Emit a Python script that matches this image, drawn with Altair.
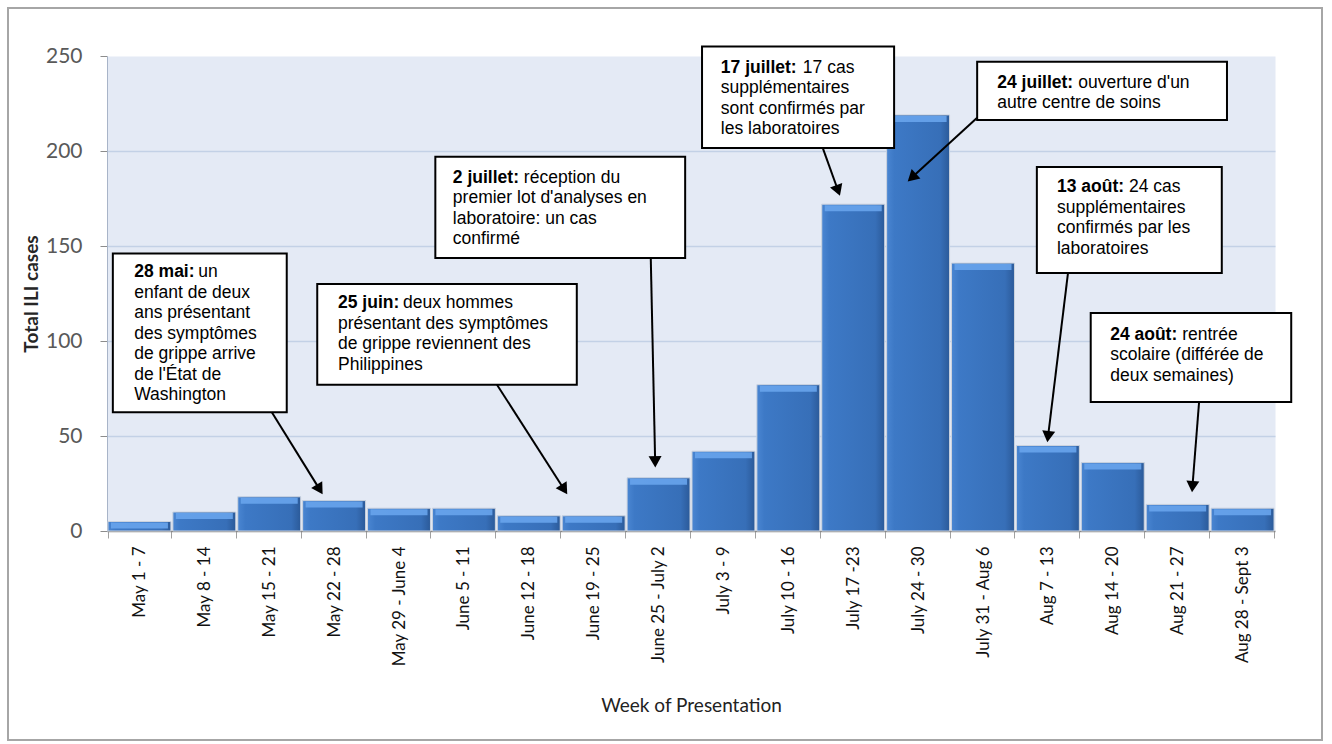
import math
import altair as alt
import pandas as pd

# ---------------- data ----------------
weeks = ["May 1 - 7", "May 8 - 14", "May 15 - 21", "May 22 - 28", "May 29 - June 4",
         "June 5 - 11", "June 12 - 18", "June 19 - 25", "June 25 - July 2", "July 3 - 9",
         "July 10 - 16", "July 17 -23", "July 24 - 30", "July 31 - Aug 6", "Aug 7 - 13",
         "Aug 14 - 20", "Aug 21 - 27", "Aug 28 - Sept 3"]
cases = [5, 10, 18, 16, 12, 12, 8, 8, 28, 42, 77, 172, 219, 141, 45, 36, 14, 12]

ann_bold = ["28 mai:", "25 juin:", "2 juillet:", "17 juillet:", "24 juillet:", "13 août:", "24 août:"]
ann_first = ["un", "deux hommes", "réception du", "17 cas", "ouverture d'un", "24 cas", "rentrée"]
ann_rest = [
    ["enfant de deux", "ans présentant", "des symptômes", "de grippe arrive", "de l'État de", "Washington"],
    ["présentant des symptômes", "de grippe reviennent des", "Philippines"],
    ["premier lot d'analyses en", "laboratoire: un cas", "confirmé"],
    ["supplémentaires", "sont confirmés par", "les laboratoires"],
    ["autre centre de soins"],
    ["supplémentaires", "confirmés par les", "laboratoires"],
    ["scolaire (différée de", "deux semaines)"],
]

# annotation layout, in chart units (x: week index 0..18, y: cases)
box_x1 = [0.09, 3.24, 5.06, 9.17, 13.41, 14.33, 15.16]
box_x2 = [2.77, 7.24, 8.91, 12.13, 17.26, 17.18, 18.25]
box_top = [146.0, 130.0, 197.0, 255.0, 247.0, 191.6, 114.7]
box_bot = [62.5, 77.0, 143.7, 201.6, 216.3, 135.8, 67.9]
text_x = [0.42, 3.56, 5.33, 9.46, 13.72, 14.64, 15.46]
text_y = [136.3, 120.0, 185.8, 243.7, 235.8, 181.0, 103.2]
bold_px = [64, 65, 71, 82, 81, 72, 72]
arrow_x1 = [2.54, 6.01, 8.38, 11.03, 13.41, 14.81, 16.83]
arrow_y1 = [62.5, 77.0, 143.7, 201.6, 217.5, 135.8, 67.9]
arrow_x2 = [3.33, 7.10, 8.45, 11.30, 12.33, 14.49, 16.72]
arrow_y2 = [19.0, 19.0, 33.0, 176.0, 183.7, 46.3, 20.0]

# ---------------- geometry ----------------
W, H = 1168, 475
YMAX = 250
NX = len(weeks)
PX_X = W / NX
PX_Y = H / YMAX
LINE_PX = 20.5
HEAD_PX = 13

bars_df = pd.DataFrame({"week": weeks, "cases": cases})

box_df = pd.DataFrame({"x1": box_x1, "x2": box_x2, "y1": box_top, "y2": box_bot})

text_rows = []
for i in range(len(ann_bold)):
    text_rows.append({"x": text_x[i], "y": text_y[i], "t": ann_bold[i], "w": "bold"})
    text_rows.append({"x": text_x[i] + bold_px[i] / PX_X, "y": text_y[i], "t": ann_first[i], "w": "normal"})
    for j, line in enumerate(ann_rest[i], start=1):
        text_rows.append({"x": text_x[i], "y": text_y[i] - j * LINE_PX / PX_Y, "t": line, "w": "normal"})
text_df = pd.DataFrame(text_rows)

arrow_rows = []
for i in range(len(arrow_x1)):
    dxp = (arrow_x2[i] - arrow_x1[i]) * PX_X
    dyp = -(arrow_y2[i] - arrow_y1[i]) * PX_Y
    L = math.hypot(dxp, dyp)
    ux, uy = dxp / L, dyp / L
    ang = math.degrees(math.atan2(ux, -uy)) % 360
    hx = arrow_x2[i] - ux * HEAD_PX * 0.5 / PX_X
    hy = arrow_y2[i] + uy * HEAD_PX * 0.5 / PX_Y
    arrow_rows.append({"x1": arrow_x1[i], "y1": arrow_y1[i], "hx": hx, "hy": hy, "ang": ang})
arrow_df = pd.DataFrame(arrow_rows)

# ---------------- scales ----------------
band = alt.Scale(domain=weeks, paddingInner=0.03, paddingOuter=0.015)
yscale = alt.Scale(domain=[0, YMAX], nice=False)
xq = alt.Scale(domain=[0, NX], nice=False, zero=False)

x_axis = alt.Axis(
    labelAngle=270, labelFont="Lato", labelFontSize=17, labelColor="#111111",
    labelPadding=8, tickBand="extent", tickColor="#a0a0a0", tickSize=7,
    domainColor="#8a8a8a", domainWidth=1.5, grid=False,
    title="Week of Presentation", titleFont="Lato", titleFontSize=19,
    titleFontWeight="normal", titleColor="#222222", titleY=174, titleBaseline="middle",
)
y_axis = alt.Axis(
    values=[0, 50, 100, 150, 200, 250], labelFont="Lato", labelFontSize=21,
    labelColor="#595959", labelPadding=18, tickColor="#8c8c8c", tickSize=7,
    domainColor="#a8b4c8", gridColor="#c3d1e6", gridWidth=1.5,
    gridOpacity=alt.condition("datum.value == 250 || datum.value == 0", alt.value(0), alt.value(1)),
    title="Total ILI cases", titleFont="Lato", titleFontSize=19, titleFontWeight="bold",
    titleColor="#262626", titleAngle=270, titleX=-76, titleY=H / 2,
    titleAlign="center", titleBaseline="middle",
)

bar_fill = alt.Gradient(
    gradient="linear",
    stops=[
        alt.GradientStop(color="#4a86d2", offset=0),
        alt.GradientStop(color="#3d79c6", offset=0.12),
        alt.GradientStop(color="#376fb8", offset=0.85),
        alt.GradientStop(color="#2b5a99", offset=1),
    ],
    x1=0, x2=1, y1=0, y2=0,
)

bars = alt.Chart(bars_df).mark_bar(
    color=bar_fill, stroke="#ccd3de", strokeWidth=1
).encode(
    x=alt.X("week:N", sort=weeks, scale=band, axis=x_axis),
    y=alt.Y("cases:Q", scale=yscale, axis=y_axis),
)

bevel = alt.Chart(bars_df).mark_tick(
    color="#68a4ec", thickness=6, size=57, yOffset=4, opacity=0.9
).encode(
    x=alt.X("week:N", sort=weeks, scale=band, axis=None),
    y=alt.Y("cases:Q", scale=yscale, axis=None),
)

boxes = alt.Chart(box_df).mark_rect(
    fill="white", stroke="black", strokeWidth=2
).encode(
    x=alt.X("x1:Q", scale=xq, axis=None), x2="x2:Q",
    y=alt.Y("y1:Q", scale=yscale, axis=None), y2="y2:Q",
)

txt_bold = alt.Chart(text_df).transform_filter("datum.w == 'bold'").mark_text(
    align="left", baseline="middle", font="Liberation Sans", fontSize=17.5,
    fontWeight="bold", color="black"
).encode(
    x=alt.X("x:Q", scale=xq, axis=None),
    y=alt.Y("y:Q", scale=yscale, axis=None),
    text="t:N",
)

txt_norm = alt.Chart(text_df).transform_filter("datum.w == 'normal'").mark_text(
    align="left", baseline="middle", font="Liberation Sans", fontSize=17.5,
    color="black"
).encode(
    x=alt.X("x:Q", scale=xq, axis=None),
    y=alt.Y("y:Q", scale=yscale, axis=None),
    text="t:N",
)

rules = alt.Chart(arrow_df).mark_rule(color="black", strokeWidth=2).encode(
    x=alt.X("x1:Q", scale=xq, axis=None), x2="hx:Q",
    y=alt.Y("y1:Q", scale=yscale, axis=None), y2="hy:Q",
)

heads = alt.Chart(arrow_df).mark_point(
    shape="triangle-up", filled=True, color="black", size=169, opacity=1
).encode(
    x=alt.X("hx:Q", scale=xq, axis=None),
    y=alt.Y("hy:Q", scale=yscale, axis=None),
    angle=alt.Angle("ang:Q", scale=None),
)

frame = alt.Chart(pd.DataFrame({"k": [0]})).mark_rect(
    fill="transparent", stroke="#a6a6a6", strokeWidth=2
).encode(
    x=alt.value(-99), x2=alt.value(1215), y=alt.value(-48), y2=alt.value(684),
)

chart = alt.layer(
    bars, bevel, boxes, rules, heads, txt_bold, txt_norm, frame
).resolve_scale(
    x="independent", y="independent"
).properties(
    width=W, height=H,
    padding={"left": 107, "top": 56, "right": 57, "bottom": 213},
    autosize=alt.AutoSizeParams(type="none"),
    background="white",
).configure_view(
    fill="#e4eaf5", stroke="transparent"
)

chart.save("out.html", embed_options={"renderer": "svg", "actions": False})
